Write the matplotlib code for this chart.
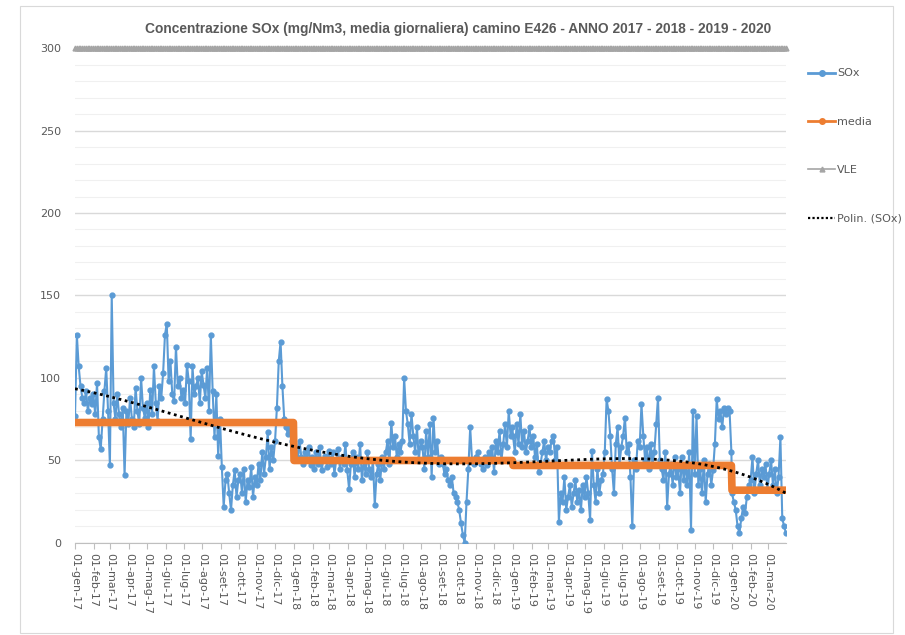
import numpy as np
import pandas as pd
import matplotlib
matplotlib.use("Agg")
import matplotlib.pyplot as plt
import matplotlib.dates as mdates
from matplotlib.patches import Rectangle
from matplotlib.lines import Line2D

#Valori giornalieri (circa 10 punti al mese)
sox_2017 = [77, 126, 107, 95, 88, 85, 92, 80, 88, 84,
            90, 78, 97, 64, 57, 75, 92, 106, 80, 47,
            150, 85, 75, 90, 78, 70, 82, 41, 80, 72,
            88, 75, 70, 94, 80, 72, 100, 82, 76, 85,
            70, 93, 78, 107, 85, 74, 95, 88, 103, 126,
            133, 98, 110, 90, 86, 119, 95, 100, 88, 93,
            85, 108, 98, 63, 107, 90, 95, 100, 85, 104,
            96, 88, 106, 80, 126, 92, 64, 90, 53, 75,
            46, 22, 38, 42, 30, 20, 35, 44, 28, 38,
            42, 30, 45, 25, 38, 34, 46, 28, 40, 35,
            48, 38, 55, 42, 52, 67, 45, 58, 50, 62,
            82, 110, 122, 95, 75, 70, 66, 72, 62, 57]
sox_2018 = [60, 55, 50, 62, 52, 48, 55, 50, 58, 47,
            52, 45, 55, 48, 58, 44, 50, 53, 46, 56,
            48, 55, 42, 50, 57, 45, 52, 48, 60, 44,
            33, 48, 55, 40, 52, 45, 60, 38, 50, 42,
            55, 45, 40, 50, 23, 42, 48, 38, 52, 45,
            55, 62, 48, 73, 58, 65, 52, 60, 55, 62,
            100, 80, 72, 60, 78, 65, 55, 70, 50, 62,
            58, 45, 68, 52, 72, 40, 76, 55, 62, 48,
            52, 48, 42, 45, 38, 35, 40, 30, 28, 25,
            20, 12, 5, 0, 25, 45, 70, 50, 48, 52,
            55, 50, 48, 45, 52, 47, 55, 50, 58, 43,
            62, 55, 68, 50, 60, 72, 58, 80, 65, 70]
sox_2019 = [65, 55, 72, 60, 78, 58, 68, 55, 62, 70,
            58, 65, 52, 60, 43, 48, 55, 62, 50, 58,
            55, 62, 65, 50, 58, 13, 30, 25, 40, 20,
            28, 35, 22, 30, 38, 25, 32, 20, 35, 28,
            40, 30, 14, 56, 35, 25, 45, 30, 38, 42,
            55, 87, 80, 65, 45, 30, 60, 70, 48, 58,
            65, 76, 55, 60, 40, 10, 50, 45, 62, 58,
            84, 65, 50, 58, 45, 60, 48, 55, 72, 88,
            50, 45, 38, 55, 22, 42, 48, 35, 52, 40,
            45, 30, 52, 38, 48, 35, 55, 8, 80, 42,
            77, 35, 45, 30, 50, 25, 42, 48, 35, 44,
            60, 87, 75, 80, 70, 82, 78, 82, 80, 55]
sox_2020 = [30, 25, 20, 10, 6, 15, 22, 18, 28, 35,
            38, 52, 30, 42, 50, 35, 45, 40, 48, 32,
            42, 50, 35, 45, 30, 40, 64, 15, 10, 6]

anni = [2017, 2018, 2019, 2020]
media = [73, 50, 47, 32]
vle = 300
mesi = ['gen', 'feb', 'mar', 'apr', 'mag', 'giu', 'lug', 'ago', 'set', 'ott', 'nov', 'dic']

#Date dei punti
fine_anno = ['2017-12-31', '2018-12-31', '2019-12-31', '2020-03-31']
serie = [sox_2017, sox_2018, sox_2019, sox_2020]
date = []
for a, f, s in zip(anni, fine_anno, serie):
    date.append(pd.date_range(f'{a}-01-01', f, periods=len(s)))
date = date[0].append(date[1:])
sox = np.concatenate(serie)

#Linea della media annuale (a gradini)
date_media = []
val_media = []
for a, f, m in zip(anni, fine_anno, media):
    date_media += [pd.Timestamp(f'{a}-01-01'), pd.Timestamp(f)]
    val_media += [m, m]

#Tendenza polinomiale
t0 = pd.Timestamp('2017-01-01')
giorni = np.array((date - t0).days, dtype=float)
coef = np.polyfit(giorni, sox, 4)
gg = np.arange(0, giorni[-1] + 1)
trend = np.polyval(coef, gg)
date_trend = t0 + pd.to_timedelta(gg, unit='D')

date_vle = pd.date_range('2017-01-01', '2020-03-31', freq='3D')

grigio = '#595959'
blu = '#5b9bd5'
arancio = '#ed7d31'
grigio_vle = '#a5a5a5'
plt.rcParams['font.family'] = ['DejaVu Sans']
fig = plt.figure(figsize=(9.05, 6.35), dpi=100)
ax = fig.add_axes([0.0829, 0.1449, 0.7856, 0.7795])

ax.plot(date, sox, '-o', color=blu, lw=1.5, ms=3.5, zorder=3)
ax.plot(date_media, val_media, '-', color=arancio, lw=5.5, zorder=4)
ax.plot(date_vle, [vle] * len(date_vle), '-^', color=grigio_vle, lw=2, ms=3.5,
        clip_on=False, zorder=4)
ax.plot(date_trend, trend, color='black', lw=2, linestyle=(0, (1, 1.3)), zorder=5)

ax.set_ylim(0, 300)
ax.set_xlim(pd.Timestamp('2017-01-01'), pd.Timestamp('2020-03-31'))
ax.set_yticks(np.arange(0, 301, 50))
ax.set_yticks(np.arange(0, 301, 10), minor=True)
ax.grid(axis='y', which='major', color='#d9d9d9', lw=1)
ax.grid(axis='y', which='minor', color='#f0f0f0', lw=0.8)
ax.set_axisbelow(True)

ax.xaxis.set_major_locator(mdates.MonthLocator())
ax.xaxis.set_major_formatter(plt.FuncFormatter(
    lambda v, p: '01-{}-{:02d}'.format(mesi[mdates.num2date(v).month - 1], mdates.num2date(v).year % 100)))
ax.tick_params(axis='x', rotation=270, labelsize=8, labelcolor=grigio, color='#bfbfbf', length=4)
ax.tick_params(axis='y', which='both', length=0, labelsize=8, labelcolor=grigio, pad=10)
for s in ['top', 'right', 'left']:
    ax.spines[s].set_visible(False)
ax.spines['bottom'].set_color('#bfbfbf')

fig.text(0.506, 0.955, 'Concentrazione SOx (mg/Nm3, media giornaliera) camino E426 - ANNO 2017 - 2018 - 2019 - 2020',
         ha='center', va='center', fontsize=9.9, color=grigio, fontweight='bold',
         family=['Liberation Sans', 'DejaVu Sans'])

#Legenda con linee sottili e un solo marcatore
maniglie = [Line2D([], [], color=blu, lw=2, marker='o', ms=4, markevery=[1]),
            Line2D([], [], color=arancio, lw=2, marker='o', ms=4, markevery=[1]),
            Line2D([], [], color=grigio_vle, lw=1.2, marker='^', ms=3.5, markevery=[1]),
            Line2D([], [], color='black', lw=1.6, linestyle=(0, (1, 1)))]
for m in maniglie[:3]:
    m.set_data([0, 0.5, 1], [0, 0, 0])
fig.legend(maniglie, ['SOx', 'media', 'VLE', 'Polin. (SOx)'], loc='upper left',
           bbox_to_anchor=(0.882, 0.908), frameon=False, fontsize=8,
           labelspacing=3.45, handlelength=2.4, handletextpad=0.2, labelcolor=grigio)

fig.patches.append(Rectangle((0.022, 0.003), 0.965, 0.988, transform=fig.transFigure,
                             fill=False, edgecolor='#d9d9d9', lw=0.8))

plt.savefig('out.png', dpi=100)
